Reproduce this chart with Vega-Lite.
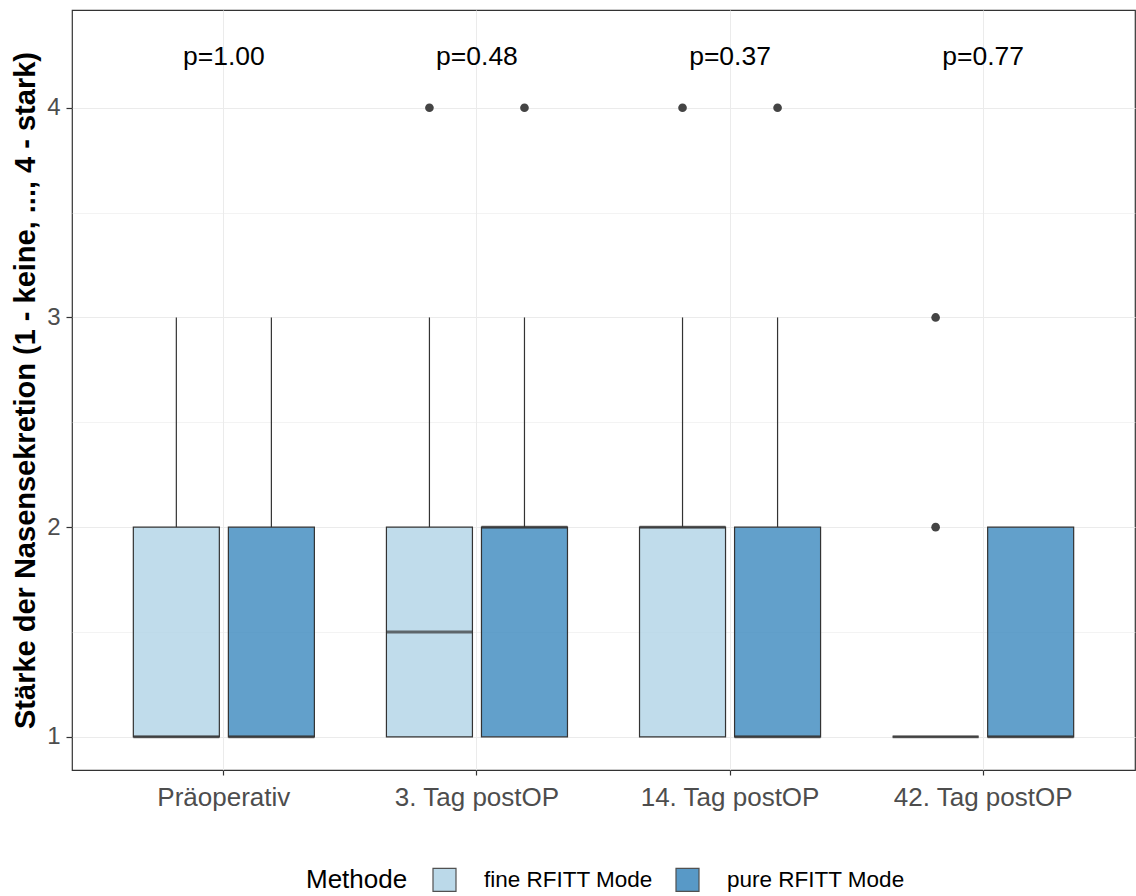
{
  "$schema": "https://vega.github.io/schema/vega-lite/v6.json",
  "width": 1063,
  "height": 760,
  "autosize": {"type": "none"},
  "padding": {"left": 72, "top": 10, "right": 1, "bottom": 126},
  "background": "white",
  "config": {
    "view": {"stroke": "#333333", "strokeWidth": 1.2},
    "font": "Liberation Sans",
    "axis": {"labelFont": "Liberation Sans", "titleFont": "Liberation Sans", "domain": false, "gridColor": "#ebebeb", "tickColor": "#333333", "labelColor": "#4d4d4d"}
  },
  "datasets": {
    "boxes": [
      {"Zeit": "Präoperativ", "Methode": "fine RFITT Mode", "lower": 1, "q1": 1, "median": 1, "q3": 2, "upper": 3},
      {"Zeit": "Präoperativ", "Methode": "pure RFITT Mode", "lower": 1, "q1": 1, "median": 1, "q3": 2, "upper": 3},
      {"Zeit": "3. Tag postOP", "Methode": "fine RFITT Mode", "lower": 1, "q1": 1, "median": 1.5, "q3": 2, "upper": 3},
      {"Zeit": "3. Tag postOP", "Methode": "pure RFITT Mode", "lower": 1, "q1": 1, "median": 2, "q3": 2, "upper": 3},
      {"Zeit": "14. Tag postOP", "Methode": "fine RFITT Mode", "lower": 1, "q1": 1, "median": 2, "q3": 2, "upper": 3},
      {"Zeit": "14. Tag postOP", "Methode": "pure RFITT Mode", "lower": 1, "q1": 1, "median": 1, "q3": 2, "upper": 3},
      {"Zeit": "42. Tag postOP", "Methode": "fine RFITT Mode", "lower": 1, "q1": 1, "median": 1, "q3": 1, "upper": 1},
      {"Zeit": "42. Tag postOP", "Methode": "pure RFITT Mode", "lower": 1, "q1": 1, "median": 1, "q3": 2, "upper": 2}
    ],
    "outliers": [
      {"Zeit": "3. Tag postOP", "Methode": "fine RFITT Mode", "wert": 4},
      {"Zeit": "3. Tag postOP", "Methode": "pure RFITT Mode", "wert": 4},
      {"Zeit": "14. Tag postOP", "Methode": "fine RFITT Mode", "wert": 4},
      {"Zeit": "14. Tag postOP", "Methode": "pure RFITT Mode", "wert": 4},
      {"Zeit": "42. Tag postOP", "Methode": "fine RFITT Mode", "wert": 3},
      {"Zeit": "42. Tag postOP", "Methode": "fine RFITT Mode", "wert": 2}
    ],
    "pvals": [
      {"Zeit": "Präoperativ", "p": "p=1.00", "y": 4.24},
      {"Zeit": "3. Tag postOP", "p": "p=0.48", "y": 4.24},
      {"Zeit": "14. Tag postOP", "p": "p=0.37", "y": 4.24},
      {"Zeit": "42. Tag postOP", "p": "p=0.77", "y": 4.24}
    ]
  },
  "layer": [
    {
      "data": {"name": "boxes"},
      "mark": {"type": "rule", "color": "#333333", "strokeWidth": 1.2},
      "encoding": {
        "x": {"field": "Zeit", "type": "nominal", "sort": ["Präoperativ", "3. Tag postOP", "14. Tag postOP", "42. Tag postOP"], "scale": {"paddingInner": 0, "paddingOuter": 0.1},
          "axis": {"title": null, "labelAngle": 0, "labelFontSize": 26, "labelPadding": 9, "tickSize": 5, "tickWidth": 1.2, "grid": true, "gridWidth": 1, "bandPosition": 0.5}},
        "xOffset": {"field": "Methode", "type": "nominal", "scale": {"domain": ["fine RFITT Mode", "pure RFITT Mode"], "paddingInner": 0.095, "paddingOuter": 0.379}},
        "y": {"field": "q3", "type": "quantitative", "scale": {"domain": [0.842, 4.466], "nice": false, "zero": false},
          "title": "Stärke der Nasensekretion (1 - keine, ..., 4 - stark)",
          "axis": {"values": [1, 1.5, 2, 2.5, 3, 3.5, 4], "labelExpr": "datum.value % 1 == 0 ? format(datum.value, 'd') : ''",
            "tickColor": {"condition": {"test": "datum.value % 1 != 0", "value": "transparent"}, "value": "#333333"},
            "gridWidth": {"condition": {"test": "datum.value % 1 != 0", "value": 0.6}, "value": 1.1},
            "grid": true, "tickSize": 6, "tickWidth": 1.2, "labelFontSize": 24, "labelPadding": 6,
            "titleFontSize": 29, "titleFontWeight": "bold", "titleColor": "black", "titlePadding": 6}},
        "y2": {"field": "upper"}
      }
    },
    {
      "data": {"name": "boxes"},
      "mark": {"type": "bar", "stroke": "#333333", "strokeWidth": 1.2, "fillOpacity": 0.8},
      "encoding": {
        "x": {"field": "Zeit", "type": "nominal", "sort": ["Präoperativ", "3. Tag postOP", "14. Tag postOP", "42. Tag postOP"]},
        "xOffset": {"field": "Methode", "type": "nominal"},
        "y": {"field": "q1", "type": "quantitative", "title": "Stärke der Nasensekretion (1 - keine, ..., 4 - stark)"},
        "y2": {"field": "q3"},
        "fill": {"field": "Methode", "type": "nominal",
          "scale": {"domain": ["fine RFITT Mode", "pure RFITT Mode"], "range": ["#b0d3e6", "#3b88be"]},
          "legend": {"orient": "none", "legendX": 234, "legendY": 857, "direction": "horizontal", "title": "Methode", "titleOrient": "left",
            "titleFontSize": 26, "titleFontWeight": "normal", "titleColor": "black", "titleFont": "Liberation Sans", "titlePadding": 24,
            "labelFontSize": 22.5, "labelColor": "black", "labelFont": "Liberation Sans", "labelOffset": 27, "labelLimit": 400,
            "symbolType": "square", "symbolSize": 529, "symbolStrokeColor": "#333333", "symbolStrokeWidth": 1.2, "symbolOpacity": 0.85, "columnPadding": 20}}
      }
    },
    {
      "data": {"name": "boxes"},
      "mark": {"type": "tick", "color": "#333333", "size": 86, "thickness": 3, "orient": "horizontal"},
      "encoding": {
        "x": {"field": "Zeit", "type": "nominal", "sort": ["Präoperativ", "3. Tag postOP", "14. Tag postOP", "42. Tag postOP"]},
        "xOffset": {"field": "Methode", "type": "nominal"},
        "y": {"field": "median", "type": "quantitative", "title": "Stärke der Nasensekretion (1 - keine, ..., 4 - stark)"}
      }
    },
    {
      "data": {"name": "outliers"},
      "mark": {"type": "point", "filled": true, "color": "#444444", "size": 75, "opacity": 1},
      "encoding": {
        "x": {"field": "Zeit", "type": "nominal", "sort": ["Präoperativ", "3. Tag postOP", "14. Tag postOP", "42. Tag postOP"]},
        "xOffset": {"field": "Methode", "type": "nominal"},
        "y": {"field": "wert", "type": "quantitative", "title": "Stärke der Nasensekretion (1 - keine, ..., 4 - stark)"}
      }
    },
    {
      "data": {"name": "pvals"},
      "mark": {"type": "text", "fontSize": 26.5, "color": "black", "baseline": "middle", "align": "center", "font": "Liberation Sans"},
      "encoding": {
        "x": {"field": "Zeit", "type": "nominal", "sort": ["Präoperativ", "3. Tag postOP", "14. Tag postOP", "42. Tag postOP"]},
        "y": {"field": "y", "type": "quantitative", "title": "Stärke der Nasensekretion (1 - keine, ..., 4 - stark)"},
        "text": {"field": "p"}
      }
    }
  ]
}
